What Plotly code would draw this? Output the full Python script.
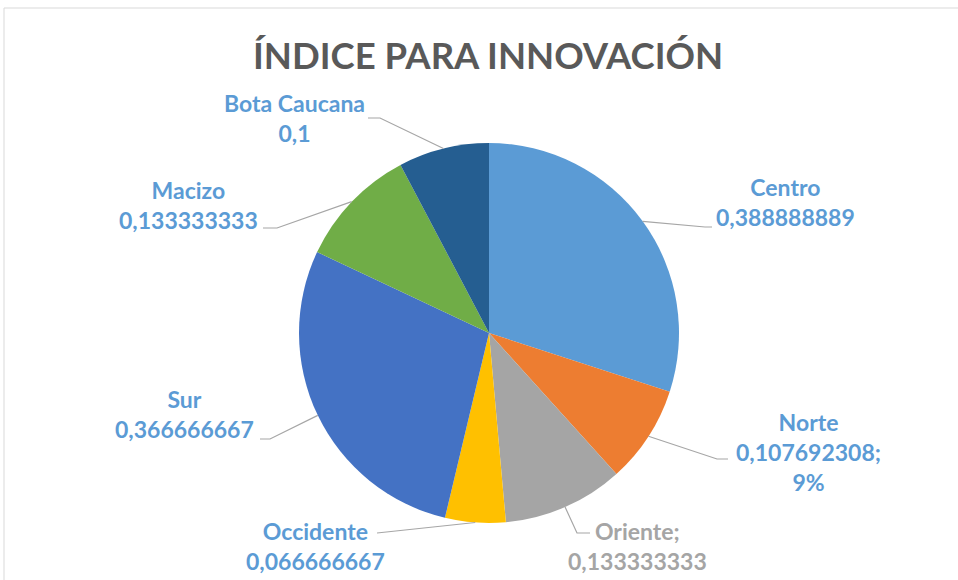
import math
import plotly.graph_objects as go

# ---- data ----
regions = ["Centro", "Norte", "Oriente", "Occidente", "Sur", "Macizo", "Bota Caucana"]
values = [0.388888889, 0.107692308, 0.133333333, 0.066666667, 0.366666667, 0.133333333, 0.1]
value_labels = ["0,388888889", "0,107692308;", "0,133333333", "0,066666667", "0,366666667", "0,133333333", "0,1"]
label_suffix = ["", "<br>9%", "", "", "", "", ""]
label_sep = ["<br>", "<br>", ";<br>", "<br>", "<br>", "<br>", "<br>"]
slice_colors = ["#5B9BD5", "#ED7D31", "#A5A5A5", "#FFC000", "#4472C4", "#70AD47", "#255E91"]
label_colors = ["#5B9BD5", "#5B9BD5", "#A5A5A5", "#5B9BD5", "#5B9BD5", "#5B9BD5", "#5B9BD5"]

# ---- layout constants (pixels) ----
W, H = 958, 580
CX, CY, R = 489, 333, 190
# label centre positions and leader-line elbows/ends (pixels)
label_pos = [(785, 202), (808, 452), (637, 546), (315, 546), (184, 414), (188, 205), (294, 118)]
leader_pts = [
    [(705, 227), (712, 227)],
    [(717, 459), (728, 459)],
    [(577, 533), (590, 533)],
    [(377, 533)],
    [(270, 439), (260, 439)],
    [(277, 228), (263, 228)],
    [(380, 118), (368, 118)],
]

def px(x):
    return x / W

def py(y):
    return 1 - y / H

fig = go.Figure()
fig.add_trace(go.Pie(
    labels=regions,
    values=values,
    sort=False,
    direction="clockwise",
    rotation=0,
    marker=dict(colors=slice_colors, line=dict(width=0)),
    textinfo="none",
    showlegend=False,
    domain=dict(x=[px(CX - R), px(CX + R)], y=[py(CY + R), py(CY - R)]),
))

total = sum(values)
cum = 0.0
shapes = []
annotations = []
for i, v in enumerate(values):
    mid = (cum + v / 2) / total * 2 * math.pi
    cum += v
    ex = CX + R * math.sin(mid)
    ey = CY - R * math.cos(mid)
    pts = [(ex, ey)] + leader_pts[i]
    path = "M " + " L ".join(f"{px(x):.5f},{py(y):.5f}" for x, y in pts)
    shapes.append(dict(type="path", xref="paper", yref="paper", path=path,
                       line=dict(color="#A6A6A6", width=1.2)))
    lx, ly = label_pos[i]
    annotations.append(dict(
        x=px(lx), y=py(ly), xref="paper", yref="paper", showarrow=False,
        text=f"<b>{regions[i]}{label_sep[i]}{value_labels[i]}{label_suffix[i]}</b>",
        font=dict(family="Lato", size=23, color=label_colors[i]),
        align="center", xanchor="center", yanchor="middle",
    ))

# chart frame
shapes.append(dict(type="rect", xref="paper", yref="paper",
                   x0=px(4), x1=1.02, y0=-0.02, y1=py(8),
                   line=dict(color="#D9D9D9", width=1)))

annotations.append(dict(
    x=px(488), y=py(55), xref="paper", yref="paper", showarrow=False,
    text="<b>ÍNDICE PARA INNOVACIÓN</b>",
    font=dict(family="Lato", size=36.5, color="#595959"),
    xanchor="center", yanchor="middle",
))

fig.update_layout(
    width=W, height=H,
    margin=dict(l=0, r=0, t=0, b=0),
    paper_bgcolor="white",
    plot_bgcolor="white",
    shapes=shapes,
    annotations=annotations,
)

fig.write_html("out.html", config={"displayModeBar": False},
               post_script="document.body.style.margin='0';document.body.style.overflow='hidden';")
